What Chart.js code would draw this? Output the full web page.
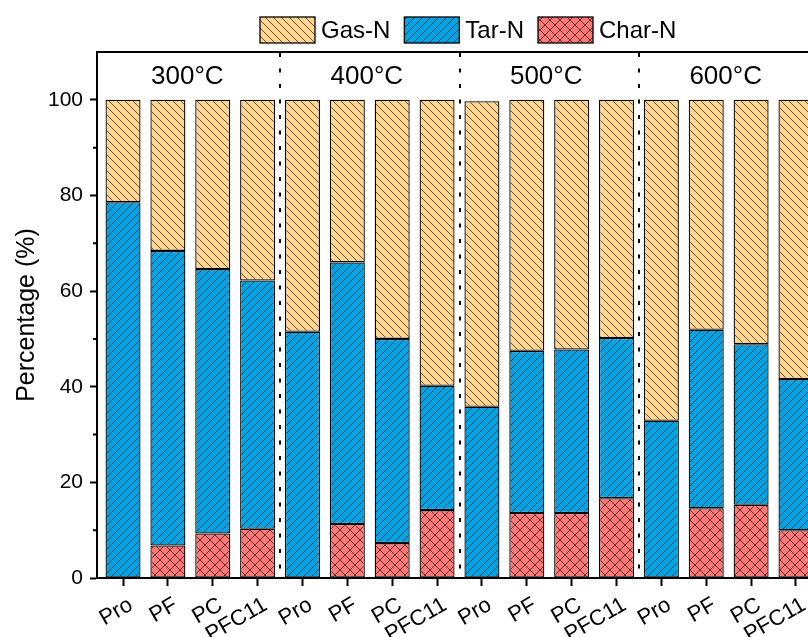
<!DOCTYPE html>
<html>
<head>
<meta charset="utf-8">
<script src="https://cdn.jsdelivr.net/npm/chart.js@4"></script>
<style>
  body { margin: 0; background: #fff; overflow: hidden; }
  #wrap { width: 808px; height: 637px; overflow: hidden; }
</style>
</head>
<body>
<div id="wrap"><canvas id="chart" width="822" height="637"></canvas></div>
<script>
const samples = ['Pro', 'PF', 'PC', 'PFC11', 'Pro', 'PF', 'PC', 'PFC11',
                 'Pro', 'PF', 'PC', 'PFC11', 'Pro', 'PF', 'PC', 'PFC11'];
const temps = ['300°C', '400°C', '500°C', '600°C'];

// N distribution (%), bottom to top: Char-N, Tar-N, Gas-N
const charN = [0, 6.8, 9.3, 10.3,  0, 11.3, 7.3, 14.2,  0, 13.6, 13.6, 16.7,  0, 14.6, 15.3, 10.0];
const tarN  = [78.6, 61.6, 55.3, 51.9,  51.5, 54.7, 42.7, 26.0,  35.8, 33.9, 34.2, 33.5,  32.9, 37.3, 33.6, 31.6];
const gasN  = [21.4, 31.6, 35.4, 37.8,  48.5, 34.0, 50.0, 59.8,  63.9, 52.5, 52.2, 49.8,  67.1, 48.1, 51.1, 58.4];

const yTicks = [0, 20, 40, 60, 80, 100];

const FONT = "'Liberation Sans', Arial, sans-serif";

// hatch fills like the Origin patterns
function hatch(bg, size, dirs) {
    const c = document.createElement('canvas');
    c.width = c.height = size;
    const g = c.getContext('2d');
    g.fillStyle = bg;
    g.fillRect(0, 0, size, size);
    g.strokeStyle = 'rgba(0,0,0,0.6)';
    g.lineWidth = 1;
    for (const d of dirs) {
        for (const o of [-size, 0, size]) {
            g.beginPath();
            if (d === '\\') { g.moveTo(o - 1, -1); g.lineTo(o + size + 1, size + 1); }
            else { g.moveTo(o - 1, size + 1); g.lineTo(o + size + 1, -1); }
            g.stroke();
        }
    }
    return g.createPattern(c, 'repeat');
}

const gasFill = hatch('#FFD592', 8, ['\\']);
const tarFill = hatch('#00A4E4', 8, ['/']);
const charFill = hatch('#FF7878', 10, ['\\', '/']);

function series(label, values, fill) {
    return {
        label: label,
        data: values.map((v, i) => ({x: i, y: v})),
        backgroundColor: fill,
        borderColor: '#000',
        borderWidth: 1.3,
        borderSkipped: false,
        barPercentage: 0.78,
        categoryPercentage: 1
    };
}

const decor = {
    id: 'decor',
    afterDraw(chart) {
        const {ctx, chartArea: a, scales: {x, y}} = chart;
        const per = samples.length / temps.length;
        ctx.save();
        ctx.strokeStyle = '#000';
        ctx.lineWidth = 2;

        // top frame line
        ctx.beginPath();
        ctx.moveTo(a.left - 1, a.top);
        ctx.lineTo(a.right, a.top);
        ctx.stroke();

        // minor y ticks
        ctx.beginPath();
        for (let v = 10; v < 110; v += 20) {
            const py = y.getPixelForValue(v);
            ctx.moveTo(a.left - 4, py);
            ctx.lineTo(a.left, py);
        }
        ctx.stroke();

        // dotted group separators
        ctx.setLineDash([4, 11.5]);
        ctx.beginPath();
        for (let g = 1; g < temps.length; g++) {
            const px = Math.round(x.getPixelForValue(g * per - 0.5));
            ctx.moveTo(px, a.top + 1);
            ctx.lineTo(px, a.bottom);
        }
        ctx.stroke();
        ctx.setLineDash([]);

        // temperature labels
        ctx.fillStyle = '#000';
        ctx.font = '26px ' + FONT;
        ctx.textAlign = 'center';
        ctx.textBaseline = 'middle';
        temps.forEach((t, g) => {
            ctx.fillText(t, x.getPixelForValue(g * per + (per - 1) / 2) - 3, 77);
        });

        // legend
        ctx.font = '24px ' + FONT;
        ctx.textAlign = 'left';
        let lx = 260;
        chart.data.datasets.slice().reverse().forEach(ds => {
            ctx.fillStyle = ds.backgroundColor;
            ctx.fillRect(lx, 17, 55, 26);
            ctx.lineWidth = 1.3;
            ctx.strokeRect(lx, 17, 55, 26);
            ctx.fillStyle = '#000';
            ctx.fillText(ds.label, lx + 61, 31);
            lx += 61 + ctx.measureText(ds.label).width + 14;
        });
        ctx.restore();
    }
};

new Chart('chart', {
    type: 'bar',
    data: {
        datasets: [
            series('Char-N', charN, charFill),
            series('Tar-N', tarN, tarFill),
            series('Gas-N', gasN, gasFill)
        ]
    },
    options: {
        responsive: false,
        animation: false,
        layout: {padding: {top: 52, left: 0, right: 0, bottom: 0}},
        plugins: {legend: {display: false}, tooltip: {enabled: false}},
        scales: {
            x: {
                type: 'linear',
                stacked: true,
                min: -0.58,
                max: 15.58,
                offset: false,
                grid: {drawOnChartArea: false, offset: false, tickLength: 8, tickWidth: 2, tickColor: '#000'},
                border: {color: '#000', width: 2},
                ticks: {
                    stepSize: 1,
                    includeBounds: false,
                    autoSkip: false,
                    minRotation: 30,
                    maxRotation: 30,
                    padding: 6,
                    labelOffset: 8,
                    color: '#000',
                    font: {size: 22, family: FONT},
                    callback: v => samples[v]
                },
                afterFit: s => { s.height = 59; }
            },
            y: {
                stacked: true,
                min: 0,
                max: 110,
                grid: {
                    drawOnChartArea: false,
                    tickLength: 7,
                    tickWidth: 2,
                    tickColor: c => yTicks.includes(c.tick.value) ? '#000' : 'rgba(0,0,0,0)'
                },
                border: {color: '#000', width: 2},
                ticks: {
                    stepSize: 10,
                    padding: 7,
                    color: '#000',
                    font: {size: 21, family: FONT},
                    callback: v => yTicks.includes(v) ? String(v) : ''
                },
                title: {
                    display: true,
                    text: 'Percentage (%)',
                    color: '#000',
                    font: {size: 25, family: FONT},
                    padding: {top: 12, bottom: 0}
                },
                afterFit: s => { s.width = 97; }
            }
        }
    },
    plugins: [decor]
});
</script>
</body>
</html>
